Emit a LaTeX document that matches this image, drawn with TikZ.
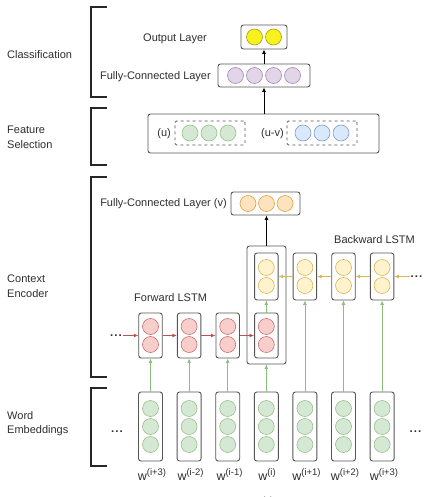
\documentclass[tikz,border=0pt]{standalone}
\usepackage{fontspec}
\setmainfont{Liberation Sans}
\usetikzlibrary{arrows.meta}
\definecolor{txt}{HTML}{2E2E2E}
\definecolor{brkc}{HTML}{262626}
\definecolor{boxgray}{HTML}{555555}
\definecolor{gfill}{HTML}{D5E8D4}\definecolor{gdraw}{HTML}{97C28A}
\definecolor{bfill}{HTML}{DAE8FC}\definecolor{bdraw}{HTML}{7C9DD0}
\definecolor{pfill}{HTML}{E1D5E7}\definecolor{pdraw}{HTML}{A58BB5}
\definecolor{ofill}{HTML}{FFE3BE}\definecolor{odraw}{HTML}{D9A441}
\definecolor{rfill}{HTML}{F8CECC}\definecolor{rdraw}{HTML}{C8706C}
\definecolor{yfill}{HTML}{FFF2CC}\definecolor{ydraw}{HTML}{D6B656}
\definecolor{Yfill}{HTML}{F7F11E}\definecolor{Ydraw}{HTML}{A89A10}
\definecolor{redarr}{HTML}{B85450}
\definecolor{yelarr}{HTML}{D6B656}
\definecolor{grnarr}{HTML}{8DBF7A}
\tikzset{
  box/.style={draw=boxgray, line width=0.9pt, rounded corners=2.5pt, inner sep=0pt},
  dbox/.style={draw=boxgray, line width=0.8pt, dashed, rounded corners=1.5pt, inner sep=0pt},
  cir/.style 2 args={circle, minimum size=16pt, inner sep=0pt, fill=#1, draw=#2, line width=0.6pt},
  lbl/.style={text=txt, font=\fontsize{11}{14.5}\selectfont, inner sep=0pt},
  wlbl/.style={text=txt, font=\fontsize{12.5}{14}\selectfont, inner sep=0pt},
  dots/.style={text=txt, font=\fontsize{11.5}{14}\selectfont\bfseries, inner sep=0pt},
  brk/.style={draw=brkc, line width=1.6pt},
  arr/.style={-{Latex[length=4.5pt,width=4pt]}, line width=0.8pt},
}
\newcommand{\wsup}[1]{w\raisebox{5pt}{\fontsize{9.5}{10}\selectfont(#1)}}
\begin{document}
\begin{tikzpicture}[x=1pt,y=-1pt]
\useasboundingbox (0,0) rectangle (429,497);

% brackets
\draw[brk] (107,7) -- (91,7) -- (91,97) -- (107,97);
\draw[brk] (107,108) -- (91,108) -- (91,165) -- (107,165);
\draw[brk] (107,177) -- (91,177) -- (91,377) -- (107,377);
\draw[brk] (107,388) -- (91,388) -- (91,466) -- (107,466);

% left labels
\node[lbl, anchor=west] (cls) at (7,55) {Classification};
\node[lbl, anchor=west, align=left] (fsel) at (7,137.5) {Feature\\Selection};
\node[lbl, anchor=west, align=left] (cenc) at (7,286) {Context\\Encoder};
\node[lbl, anchor=west, align=left] (wemb) at (7,423.5) {Word\\Embeddings};

% output layer
\node[box, minimum width=46pt, minimum height=24pt] (out) at (264,37) {};
\node[cir={Yfill}{Ydraw}] (out1) at (254.5,37) {};
\node[cir={Yfill}{Ydraw}] (out2) at (273.5,37) {};
\node[lbl, anchor=east] (lout) at (207,39) {Output Layer};

% fully-connected layer
\node[box, minimum width=92pt, minimum height=23pt] (fc) at (264,75.5) {};
\foreach \j/\x in {1/235.5,2/254.5,3/273.5,4/292.5}
  \node[cir={pfill}{pdraw}] (fc\j) at (\x,75.5) {};
\node[lbl, anchor=east] (lfc) at (211,77) {Fully-Connected Layer};

% feature selection
\node[box, minimum width=231pt, minimum height=39pt] (feat) at (263.5,133.5) {};
\node[dbox, minimum width=70pt, minimum height=24pt] (du) at (210,133) {};
\node[dbox, minimum width=70pt, minimum height=24pt] (duv) at (322,133) {};
\foreach \j/\x in {1/190,2/209,3/228}
  \node[cir={gfill}{gdraw}] (du\j) at (\x,133) {};
\foreach \j/\x in {1/303,2/322,3/341}
  \node[cir={bfill}{bdraw}] (duv\j) at (\x,133) {};
\node[lbl, anchor=east] (lu) at (171,134) {(u)};
\node[lbl, anchor=east] (luv) at (284,134) {(u-v)};

% fully-connected layer (v)
\node[box, draw=boxgray, minimum width=69pt, minimum height=23pt] (fcv) at (265.5,203.5) {};
\foreach \j/\x in {1/248,2/266.5,3/285}
  \node[cir={ofill}{odraw}] (fcv\j) at (\x,203.5) {};
\node[lbl, anchor=east] (lfcv) at (227,204) {Fully-Connected Layer (v)};

% big box around position i
\node[box, minimum width=39pt, minimum height=118pt] (big) at (266.5,305) {};

% word embeddings
\foreach \k/\x in {1/150.5,2/189.1,3/227.7,4/266.3,5/304.9,6/343.5,7/382.1}{
  \node[box, minimum width=24pt, minimum height=69pt] (w\k) at (\x,426.5) {};
  \foreach \j/\y in {1/408.5,2/426.5,3/444.5}
    \node[cir={gfill}{gdraw}] (w\k-\j) at (\x,\y) {};
}

% forward LSTM
\foreach \k/\x in {1/150.5,2/189.1,3/227.7,4/266.3}{
  \node[box, minimum width=23.5pt, minimum height=45pt] (f\k) at (\x,335.5) {};
  \foreach \j/\y in {1/326.5,2/344.5}
    \node[cir={rfill}{rdraw}] (f\k-\j) at (\x,\y) {};
}
% backward LSTM
\foreach \k/\x in {4/266.3,5/304.9,6/343.5,7/382.1}{
  \node[box, minimum width=23.5pt, minimum height=47pt] (b\k) at (\x,276.5) {};
  \foreach \j/\y in {1/267.5,2/285.5}
    \node[cir={yfill}{ydraw}] (b\k-\j) at (\x,\y) {};
}

\node[lbl, anchor=west] (lfw) at (134,298) {Forward LSTM};
\node[lbl, anchor=west] (lbw) at (334,240) {Backward LSTM};

% dots
\node[dots, anchor=base] (fdots) at (116,336.5) {.\kern1pt.\kern1pt.};
\node[dots, anchor=base] (bdots) at (416.5,277.5) {.\kern1pt.\kern1pt.};
\node[dots, anchor=base] (ldots) at (117,432.5) {.\kern1pt.\kern1pt.};
\node[dots, anchor=base] (rdots) at (415.5,432.5) {.\kern1pt.\kern1pt.};

% forward arrows
\draw[arr, redarr] ([xshift=1pt]fdots.east |- f1) -- (f1.west);
\draw[arr, redarr] (f1.east) -- (f2.west);
\draw[arr, redarr] (f2.east) -- (f3.west);
\draw[arr, redarr] (f3.east) -- (f4.west);
% backward arrows
\draw[arr, yelarr] ([xshift=-1pt]bdots.west |- b7) -- (b7.east);
\draw[arr, yelarr] (b7.west) -- (b6.east);
\draw[arr, yelarr] (b6.west) -- (b5.east);
\draw[arr, yelarr] (b5.west) -- (b4.east);
% green arrows
\foreach \k in {1,2,3} \draw[arr, grnarr] (w\k.north) -- (f\k.south);
\draw[arr, grnarr] (w4.north) -- (w4.north |- big.south);
\draw[arr, grnarr] (f4.north) -- (b4.south);
\foreach \k in {5,6,7} \draw[arr, grnarr] (w\k.north) -- (b\k.south);

% black arrows
\draw[arr, black] (big.north) -- (big.north |- fcv.south);
\draw[arr, black] (fc.south |- feat.north) -- (fc.south);
\draw[arr, black] (fc.north) -- (out.south);

% word labels
\foreach \k/\x/\s in {1/152/i+3,2/190.5/i-2,3/229.5/i-1,4/267/i,5/306.5/i+1,6/345/i+2,7/384/i+3}
  \node[wlbl, anchor=base] (lw\k) at (\x,480) {\wsup{\s}};
\node[lbl, font=\fontsize{9}{10}\selectfont\itshape, anchor=base] (lbot) at (267,503) {(u)};
\end{tikzpicture}
\end{document}
